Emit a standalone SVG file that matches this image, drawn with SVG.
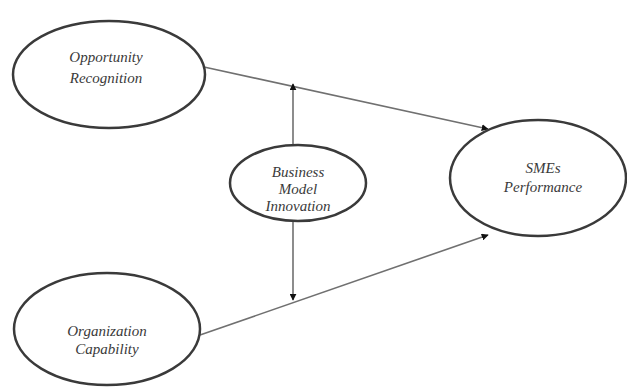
<svg xmlns="http://www.w3.org/2000/svg" width="627" height="389" viewBox="0 0 627 389">
<style>
.node ellipse{fill:#fff;stroke:#3a3a3a;stroke-width:2.5}
.node text{font-family:"Liberation Serif",serif;font-style:italic;font-size:15px;fill:#3a3a3a;text-anchor:middle}
.conn line{stroke:#707070;stroke-width:1.6;fill:none}
</style>
<defs>
<marker id="ah" viewBox="0 0 10 10" refX="9" refY="5" markerWidth="7" markerHeight="7" markerUnits="userSpaceOnUse" orient="auto">
<path d="M0,0 L10,5 L0,10 Z" fill="#111"/>
</marker>
</defs>
<rect width="627" height="389" fill="#fff"/>
<g id="connectors" class="conn">
<line x1="204" y1="67" x2="488" y2="129" marker-end="url(#ah)"/>
<line x1="200" y1="335" x2="488" y2="235" marker-end="url(#ah)"/>
<line x1="293" y1="145" x2="293" y2="84" marker-end="url(#ah)"/>
<line x1="293" y1="221" x2="293" y2="300" marker-end="url(#ah)"/>
</g>
<g id="opportunity" class="node">
<ellipse cx="109" cy="74.5" rx="96" ry="53.5"/>
<text x="106" y="62">Opportunity</text>
<text x="106" y="83">Recognition</text>
</g>
<g id="organization" class="node">
<ellipse cx="107" cy="329" rx="93" ry="56"/>
<text x="107" y="336">Organization</text>
<text x="107" y="354">Capability</text>
</g>
<g id="bmi" class="node">
<ellipse cx="298" cy="183" rx="68" ry="38"/>
<text x="298" y="177">Business</text>
<text x="298" y="194">Model</text>
<text x="298" y="211">Innovation</text>
</g>
<g id="smes" class="node">
<ellipse cx="538" cy="178" rx="88" ry="58"/>
<text x="543" y="173">SMEs</text>
<text x="543" y="192">Performance</text>
</g>
</svg>
